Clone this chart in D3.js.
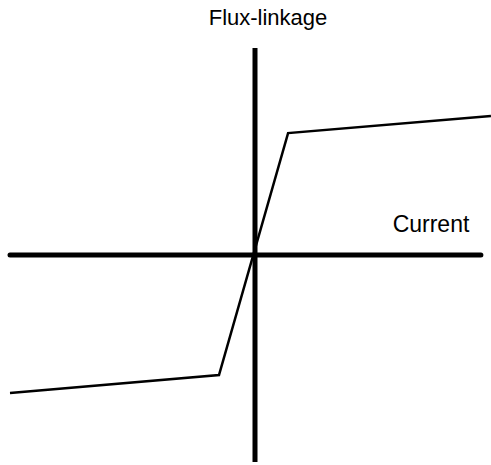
<!DOCTYPE html>
<html>
<head>
<meta charset="utf-8">
<script src="https://d3js.org/d3.v7.min.js"></script>
<style>
  html, body { margin: 0; padding: 0; background: #fff; }
  svg { display: block; }
  .label { font-family: 'Liberation Sans', Arial, sans-serif; fill: #000; }
</style>
</head>
<body>
<div id="chart"></div>
<script>
// magnetisation curve (normalised current vs flux-linkage)
const current = [-1, -0.147, 0.135, 0.963];
const fluxLinkage = [-0.667, -0.58, 0.589, 0.671];
const axisLabels = ['Current', 'Flux-linkage'];

const width = 491, height = 465;

const svg = d3.select('#chart')
  .append('svg')
  .attr('width', width)
  .attr('height', height);

const x = d3.scaleLinear().domain([-1, 1]).range([10, 500]);
const y = d3.scaleLinear().domain([-1, 1]).range([462, 48]);

// axes
svg.append('line')
  .attr('x1', x(-1)).attr('x2', x(0.922))
  .attr('y1', y(0)).attr('y2', y(0))
  .attr('stroke', '#000')
  .attr('stroke-width', 5)
  .attr('stroke-linecap', 'round');

svg.append('line')
  .attr('x1', x(0)).attr('x2', x(0))
  .attr('y1', y(-1)).attr('y2', y(1))
  .attr('stroke', '#000')
  .attr('stroke-width', 5);

// curve
const pts = current.map((c, i) => [c, fluxLinkage[i]]);
const line = d3.line()
  .x(d => x(d[0]))
  .y(d => y(d[1]));

svg.append('path')
  .datum(pts)
  .attr('d', line)
  .attr('fill', 'none')
  .attr('stroke', '#000')
  .attr('stroke-width', 2.5)
  .attr('stroke-linejoin', 'miter');

// labels
svg.append('text')
  .attr('class', 'label')
  .attr('x', 431)
  .attr('y', 232)
  .attr('text-anchor', 'middle')
  .style('font-size', '23px')
  .text(axisLabels[0]);

svg.append('text')
  .attr('class', 'label')
  .attr('x', 268)
  .attr('y', 25)
  .attr('text-anchor', 'middle')
  .style('font-size', '22px')
  .text(axisLabels[1]);
</script>
</body>
</html>
